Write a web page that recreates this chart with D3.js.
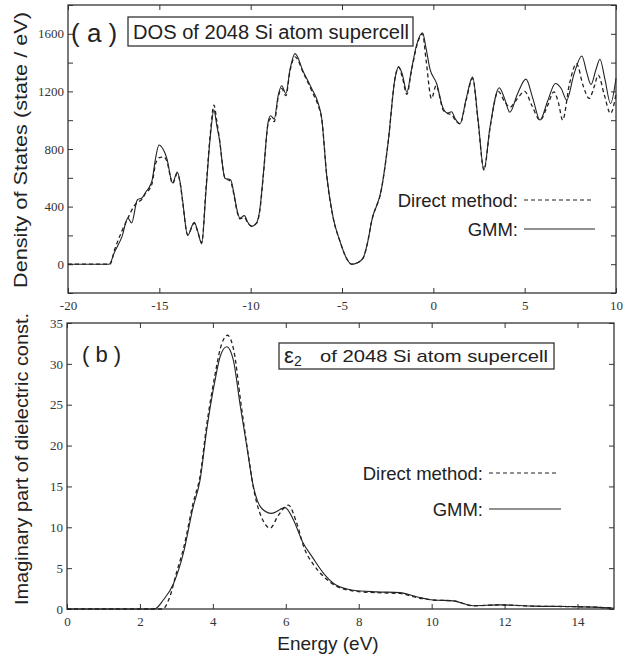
<!DOCTYPE html>
<meta charset="utf-8">
<style>
    body { margin: 0; background: #fff; }
    .lbl { font-family: "Liberation Sans", Arial, sans-serif; fill: #222; }
</style>
<svg width="625" height="657"></svg>
<script src="https://cdn.jsdelivr.net/npm/d3@7"></script>
<script>
// (a) DOS, GMM curve
let dosGmmE = [-20, -17.75, -17.45, -17.05, -16.72, -16.52, -16.2, -15.95, -15.72, -15.55, -15.4, -15.2, -15.02, -14.8, -14.6, -14.27, -14.02, -13.85, -13.72, -13.45, -13.09, -12.9, -12.68, -12.45, -12.2, -12.01, -11.85, -11.72, -11.41, -11.1, -10.9, -10.77, -10.59, -10.35, -10.15, -9.95, -9.67, -9.5, -9.31, -9.04, -8.91, -8.71, -8.49, -8.3, -8.07, -7.85, -7.57, -7.12, -6.66, -6.3, -6.11, -5.84, -5.48, -5.11, -4.75, -4.47, -4.15, -3.84, -3.6, -3.38, -2.83, -2.47, -2.1, -1.9, -1.7, -1.45, -1.2, -0.9, -0.59, -0.4, -0.19, 0.18, 0.54, 0.8, 1.0, 1.2, 1.46, 1.8, 2.15, 2.45, 2.77, 3.1, 3.61, 3.9, 4.19, 4.6, 5.07, 5.45, 5.84, 6.25, 6.68, 7.0, 7.3, 7.7, 8.13, 8.4, 8.63, 8.9, 9.12, 9.4, 9.7, 10];
let dosGmm = [0, 0, 85, 190, 320, 286, 448, 460, 505, 535, 580, 740, 828, 800, 740, 565, 640, 560, 436, 200, 291, 230, 141, 500, 900, 1070, 960, 874, 597, 586, 480, 390, 320, 337, 290, 263, 290, 380, 620, 990, 1031, 1008, 1174, 1239, 1185, 1350, 1462, 1336, 1220, 1116, 1012, 620, 320, 159, 40, 0, 10, 44, 150, 298, 528, 851, 1289, 1370, 1320, 1195, 1350, 1530, 1607, 1500, 1358, 1255, 1082, 1050, 1059, 1010, 975, 1150, 1301, 1000, 655, 950, 1225, 1150, 1055, 1180, 1285, 1150, 1001, 1130, 1255, 1220, 1140, 1320, 1446, 1330, 1248, 1350, 1423, 1280, 1116, 1290];

// (a) DOS, direct method
let dosDirE = [-20, -17.7, -17.45, -17.05, -16.72, -16.4, -16.2, -15.95, -15.72, -15.55, -15.4, -15.2, -15.0, -14.75, -14.6, -14.27, -14.02, -13.85, -13.72, -13.45, -13.09, -12.9, -12.68, -12.45, -12.2, -12.01, -11.85, -11.72, -11.41, -11.1, -10.9, -10.77, -10.59, -10.35, -10.15, -9.95, -9.67, -9.5, -9.31, -9.04, -8.91, -8.71, -8.49, -8.3, -8.07, -7.85, -7.57, -7.12, -6.66, -6.3, -6.11, -5.84, -5.48, -5.11, -4.75, -4.47, -4.15, -3.84, -3.6, -3.38, -2.83, -2.47, -2.1, -1.9, -1.7, -1.45, -1.2, -0.9, -0.59, -0.4, -0.1, 0.15, 0.54, 0.8, 1.0, 1.2, 1.46, 1.8, 2.15, 2.45, 2.77, 3.1, 3.55, 3.9, 4.19, 4.6, 5.0, 5.4, 5.84, 6.25, 6.6, 6.85, 7.08, 7.45, 7.84, 8.2, 8.53, 8.8, 9.03, 9.35, 9.7, 10];
let dosDir = [0, 0, 100, 230, 320, 400, 430, 450, 500, 520, 560, 700, 740, 745, 720, 560, 630, 555, 430, 205, 285, 225, 150, 520, 920, 1105, 990, 880, 600, 575, 470, 380, 315, 325, 285, 265, 285, 370, 610, 980, 1010, 990, 1160, 1220, 1170, 1340, 1440, 1330, 1205, 1100, 1010, 620, 320, 159, 40, 0, 10, 44, 150, 298, 528, 851, 1289, 1370, 1300, 1180, 1340, 1520, 1600, 1420, 1150, 1240, 1070, 1045, 1040, 1000, 975, 1140, 1290, 990, 655, 940, 1200, 1130, 1090, 1150, 1200, 1100, 1001, 1100, 1197, 1120, 1001, 1250, 1393, 1240, 1151, 1230, 1313, 1180, 1047, 1180];

// (b) epsilon2, GMM
let epsGmmE = [0, 2.4, 2.64, 2.92, 3.19, 3.46, 3.65, 3.83, 4.06, 4.2, 4.38, 4.56, 4.74, 4.93, 5.11, 5.34, 5.61, 5.98, 6.21, 6.45, 6.75, 7.03, 7.39, 7.85, 8.49, 9.13, 9.59, 10.04, 10.59, 11.14, 11.87, 12.8, 13.7, 14.6, 15];
let epsGmm = [0, 0, 1.1, 3.1, 6.8, 12.5, 15.8, 21.9, 28, 30.9, 32.1, 30.5, 25.2, 19.9, 15.0, 12.3, 11.7, 12.4, 10.9, 8.3, 6.2, 4.4, 2.9, 2.3, 2.1, 2.0, 1.5, 1.1, 1.0, 0.4, 0.5, 0.35, 0.3, 0.2, 0.1];

// (b) epsilon2, direct method
let epsDirE = [0, 2.62, 2.82, 3.0, 3.2, 3.46, 3.65, 3.83, 4.06, 4.2, 4.4, 4.58, 4.76, 4.95, 5.15, 5.38, 5.57, 5.8, 6.07, 6.3, 6.5, 6.75, 7.03, 7.39, 7.85, 8.49, 9.13, 9.59, 10.04, 10.59, 11.14, 11.87, 12.8, 13.7, 14.6, 15];
let epsDir = [0, 0, 1.5, 4.4, 7.5, 13, 16.3, 22.5, 28.7, 31.8, 33.5, 31.5, 25.5, 19.5, 14.0, 10.8, 9.9, 11.5, 12.7, 10.5, 7.5, 5.5, 4.0, 2.8, 2.2, 2.0, 1.9, 1.4, 1.1, 1.0, 0.4, 0.5, 0.35, 0.3, 0.2, 0.1];

let topXTicks = [-20, -15, -10, -5, 0, 5, 10];
let topYTicks = [0, 400, 800, 1200, 1600];
let topYMinor = [-200, 0, 200, 400, 600, 800, 1000, 1200, 1400, 1600, 1800];
let botXTicks = [0, 2, 4, 6, 8, 10, 12, 14];
let botYTicks = [0, 5, 10, 15, 20, 25, 30, 35];

let svg = d3.select("svg");
let ink = "#222";
let num = d => String(d);   // plain hyphen minus, like the figure

function zip(xs, ys) {
    return xs.map((x, i) => [x, ys[i]]);
}

function styleAxis(sel) {
    sel.select(".domain").remove();
    sel.selectAll(".tick line").attr("stroke", "#333");
    sel.selectAll(".tick text")
        .style("font-family", "'Liberation Serif', 'DejaVu Serif', serif")
        .style("font-size", "13px")
        .attr("fill", "#333");
}

function panel(o) {
    let x = d3.scaleLinear().domain(o.xDomain).range([o.left, o.right]);
    let y = d3.scaleLinear().domain(o.yDomain).range([o.bottom, o.top]);
    let g = svg.append("g");

    // inward ticks on all four sides
    g.append("g").attr("transform", `translate(0,${o.bottom})`)
        .call(d3.axisBottom(x).tickValues(o.xTicks).tickSize(-5).tickPadding(8).tickFormat(num))
        .call(styleAxis);
    g.append("g").attr("transform", `translate(0,${o.top})`)
        .call(d3.axisTop(x).tickValues(o.xTicks).tickSize(-5).tickFormat(""))
        .call(styleAxis);
    g.append("g").attr("transform", `translate(${o.left},0)`)
        .call(d3.axisLeft(y).tickValues(o.yMinor).tickSize(-5).tickFormat(""))
        .call(styleAxis);
    g.append("g").attr("transform", `translate(${o.left},0)`)
        .call(d3.axisLeft(y).tickValues(o.yTicks).tickSize(0).tickPadding(4).tickFormat(num))
        .call(styleAxis);
    g.append("g").attr("transform", `translate(${o.right},0)`)
        .call(d3.axisRight(y).tickValues(o.yMinor).tickSize(-5).tickFormat(""))
        .call(styleAxis);

    g.append("rect")
        .attr("x", o.left).attr("y", o.top)
        .attr("width", o.right - o.left).attr("height", o.bottom - o.top)
        .attr("fill", "none").attr("stroke", "#333").attr("stroke-width", 1.3);

    let line = d3.line()
        .x(d => x(d[0])).y(d => y(d[1]))
        .curve(d3.curveMonotoneX);

    g.append("path").datum(o.dashed)
        .attr("d", line).attr("fill", "none")
        .attr("stroke", ink).attr("stroke-width", 1.3).attr("stroke-dasharray", "4,3");
    g.append("path").datum(o.solid)
        .attr("d", line).attr("fill", "none")
        .attr("stroke", ink).attr("stroke-width", 1.1);

    // legend
    let lg = g.append("g").attr("class", "lbl").style("font-size", "18.5px");
    lg.append("text").attr("x", o.legX).attr("y", o.legY + 7)
        .attr("text-anchor", "end").text("Direct method:");
    lg.append("line").attr("x1", o.legX + 6).attr("x2", o.legX + o.legW)
        .attr("y1", o.legY).attr("y2", o.legY)
        .attr("stroke", ink).attr("stroke-width", 1.2).attr("stroke-dasharray", "4,3");
    lg.append("text").attr("x", o.legX).attr("y", o.legY + o.legGap + 7)
        .attr("text-anchor", "end").text("GMM:");
    lg.append("line").attr("x1", o.legX + 6).attr("x2", o.legX + o.legW + 2)
        .attr("y1", o.legY + o.legGap).attr("y2", o.legY + o.legGap)
        .attr("stroke", ink).attr("stroke-width", 1.2);

    return g;
}

let ga = panel({
    left: 68, right: 616, top: 5, bottom: 293,
    xDomain: [-20, 10], yDomain: [-200, 1800],
    xTicks: topXTicks, yTicks: topYTicks, yMinor: topYMinor,
    solid: zip(dosGmmE, dosGmm), dashed: zip(dosDirE, dosDir),
    legX: 518, legY: 200, legW: 75, legGap: 29
});

let gb = panel({
    left: 67, right: 614, top: 323, bottom: 609,
    xDomain: [0, 15], yDomain: [0, 35],
    xTicks: botXTicks, yTicks: botYTicks, yMinor: botYTicks,
    solid: zip(epsGmmE, epsGmm), dashed: zip(epsDirE, epsDir),
    legX: 483, legY: 473, legW: 76, legGap: 36
});

// panel tags and titles
ga.append("text").attr("class", "lbl").attr("x", 71).attr("y", 42)
    .style("font-size", "26px").text("( a )");
ga.append("rect").attr("x", 128).attr("y", 17).attr("width", 285).attr("height", 29)
    .attr("fill", "#fff").attr("stroke", "#333").attr("stroke-width", 1.3);
ga.append("text").attr("class", "lbl").attr("x", 133).attr("y", 39)
    .style("font-size", "20px")
    .attr("textLength", 276).attr("lengthAdjust", "spacingAndGlyphs")
    .text("DOS of 2048 Si atom supercell");

gb.append("text").attr("class", "lbl").attr("x", 82).attr("y", 362)
    .style("font-size", "22px").text("( b )");
gb.append("rect").attr("x", 279).attr("y", 343).attr("width", 275).attr("height", 26)
    .attr("fill", "#fff").attr("stroke", "#333").attr("stroke-width", 1.3);
gb.append("text").attr("class", "lbl").attr("x", 284).attr("y", 363)
    .style("font-size", "22px").text("ε");
gb.append("text").attr("class", "lbl").attr("x", 294).attr("y", 366)
    .style("font-size", "14px").text("2");
gb.append("text").attr("class", "lbl").attr("x", 320).attr("y", 362)
    .style("font-size", "17px")
    .attr("textLength", 228).attr("lengthAdjust", "spacingAndGlyphs")
    .text("of 2048 Si atom supercell");

// axis titles
svg.append("text").attr("class", "lbl")
    .attr("transform", "translate(27,150) rotate(-90)")
    .attr("text-anchor", "middle").style("font-size", "17.5px")
    .attr("textLength", 276).attr("lengthAdjust", "spacingAndGlyphs")
    .text("Density  of  States (state / eV)");
svg.append("text").attr("class", "lbl")
    .attr("transform", "translate(28,459) rotate(-90)")
    .attr("text-anchor", "middle").style("font-size", "18px")
    .attr("textLength", 292).attr("lengthAdjust", "spacingAndGlyphs")
    .text("Imaginary part of dielectric const.");
svg.append("text").attr("class", "lbl")
    .attr("x", 328).attr("y", 650)
    .attr("text-anchor", "middle").style("font-size", "19px")
    .text("Energy  (eV)");
</script>
